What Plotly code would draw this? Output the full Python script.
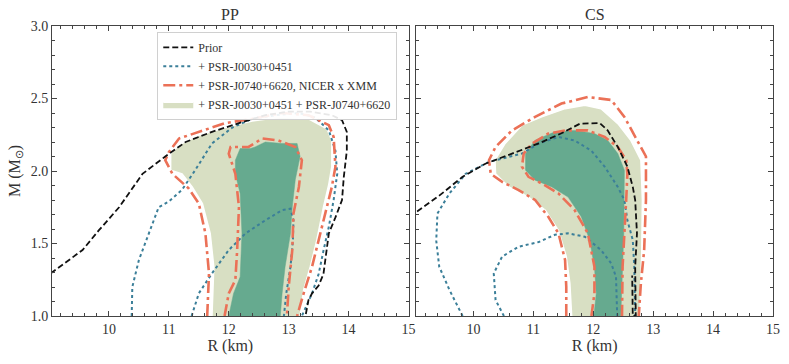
import plotly.graph_objects as go

# colours
prior_col = "#111111"
j0030_col = "#3b7f99"
j0740_col = "#eb7157"
outer_fill = "#d8dfc3"
inner_fill = "#66aa8f"

# ---- PP panel contours (R in km, M in Msun) ----
pp_prior_R = [9.03, 9.56, 9.83, 10.17, 10.56, 10.94, 11.28, 11.72, 12.17, 12.61, 13.0, 13.36, 13.72, 13.89,
              13.97, 13.97, 13.92, 13.89, 13.78, 13.67, 13.58, 13.5, 13.39, 13.33, 13.28]
pp_prior_M = [1.294, 1.455, 1.59, 1.75, 1.98, 2.10, 2.20, 2.27, 2.33, 2.385, 2.41, 2.41, 2.385, 2.35,
              2.27, 2.14, 1.96, 1.80, 1.68, 1.57, 1.29, 1.21, 1.156, 1.11, 1.0]

pp_j0030_outer_R = [10.38, 10.39, 10.5, 10.67, 10.83, 11.0, 11.22, 11.44, 11.72, 12.06, 12.39, 12.78, 13.17,
                    13.44, 13.67, 13.78, 13.81, 13.75, 13.67, 13.58, 13.5, 13.39, 13.22]
pp_j0030_outer_M = [1.0, 1.20, 1.386, 1.57, 1.75, 1.79, 1.87, 2.006, 2.19, 2.30, 2.36, 2.385, 2.40,
                    2.37, 2.28, 2.14, 1.98, 1.80, 1.615, 1.45, 1.29, 1.156, 1.0]
pp_j0030_inner_R = [11.38, 11.5, 11.72, 12.0, 12.28, 12.61, 12.89, 13.03, 13.08, 13.07, 13.03, 12.96, 12.92]
pp_j0030_inner_M = [1.0, 1.156, 1.294, 1.455, 1.57, 1.66, 1.73, 1.74, 1.66, 1.52, 1.34, 1.156, 1.0]

pp_j0740_outer_R = [11.64, 11.67, 11.61, 11.5, 11.33, 11.06, 10.94, 11.0, 11.17, 11.5, 11.94, 12.39, 12.89,
                    13.33, 13.67, 13.75, 13.78, 13.72, 13.61, 13.5, 13.39, 13.25, 13.14]
pp_j0740_outer_M = [1.0, 1.294, 1.57, 1.776, 1.88, 1.98, 2.075, 2.13, 2.224, 2.27, 2.33, 2.36, 2.40,
                    2.385, 2.316, 2.235, 2.03, 1.89, 1.71, 1.524, 1.34, 1.156, 1.0]
pp_j0740_inner_R = [11.93, 12.0, 12.11, 12.14, 12.17, 12.11, 12.0, 12.03, 12.33, 12.56, 12.83, 13.11, 13.22,
                    13.17, 13.08, 13.06, 13.0, 12.97]
pp_j0740_inner_M = [1.0, 1.156, 1.248, 1.455, 1.753, 1.98, 2.12, 2.166, 2.166, 2.224, 2.21, 2.166, 2.075,
                    1.89, 1.707, 1.455, 1.20, 1.0]

pp_both_outer_R = [11.72, 11.75, 11.69, 11.56, 11.39, 11.22, 11.03, 11.03, 11.17, 11.5, 11.94, 12.39, 12.89,
                   13.33, 13.64, 13.72, 13.72, 13.67, 13.58, 13.47, 13.36, 13.25, 13.19]
pp_both_outer_M = [1.0, 1.34, 1.57, 1.776, 1.89, 1.98, 2.006, 2.12, 2.18, 2.247, 2.30, 2.345, 2.373,
                   2.36, 2.29, 2.21, 2.03, 1.91, 1.75, 1.524, 1.34, 1.18, 1.0]
pp_both_inner_R = [12.0, 12.08, 12.19, 12.22, 12.19, 12.11, 12.11, 12.19, 12.36, 12.44, 12.61, 12.89, 13.14,
                   13.19, 13.11, 13.06, 13.03, 12.94, 12.89, 12.86]
pp_both_inner_M = [1.0, 1.156, 1.27, 1.57, 1.845, 1.98, 2.075, 2.155, 2.155, 2.166, 2.2, 2.19, 2.19,
                   2.10, 1.94, 1.753, 1.57, 1.34, 1.156, 1.0]

# ---- CS panel contours ----
cs_prior_R = [9.06, 9.43, 9.82, 10.2, 10.645, 11.09, 11.47, 11.78, 12.11, 12.24, 12.41, 12.57, 12.66, 12.7,
              12.73, 12.7, 12.71, 12.66, 12.65]
cs_prior_M = [1.72, 1.83, 1.96, 2.05, 2.12, 2.19, 2.26, 2.327, 2.33, 2.28, 2.166, 2.03, 1.89, 1.80,
              1.57, 1.34, 1.0, 1.0, 1.28]

cs_j0030_outer_R = [9.82, 9.6, 9.43, 9.38, 9.40, 9.6, 9.87, 10.26, 10.81, 11.09, 11.42, 11.69, 11.97, 12.19,
                    12.41, 12.52, 12.57, 12.66, 12.685, 12.7]
cs_j0030_outer_M = [1.0, 1.18, 1.34, 1.52, 1.707, 1.845, 1.98, 2.063, 2.12, 2.19, 2.235, 2.21, 2.14, 2.03,
                    1.89, 1.80, 1.66, 1.524, 1.34, 1.0]
cs_j0030_inner_R = [10.51, 10.37, 10.34, 10.48, 10.755, 11.09, 11.36, 11.58, 11.86, 12.13, 12.30, 12.38, 12.40]
cs_j0030_inner_M = [1.0, 1.11, 1.294, 1.41, 1.478, 1.51, 1.56, 1.57, 1.547, 1.455, 1.363, 1.27, 1.0]

cs_j0740_outer_R = [11.55, 11.55, 11.53, 11.42, 11.25, 11.03, 10.755, 10.48, 10.29, 10.26, 10.37, 10.645,
                    11.03, 11.47, 11.91, 12.30, 12.52, 12.74, 12.88, 12.88, 12.85, 12.795, 12.76]
cs_j0740_outer_M = [1.0, 1.20, 1.386, 1.57, 1.684, 1.80, 1.868, 1.925, 1.98, 2.075, 2.166, 2.28,
                    2.373, 2.465, 2.51, 2.49, 2.373, 2.21, 2.10, 1.80, 1.455, 1.225, 1.0]
cs_j0740_inner_R = [11.97, 12.02, 12.02, 11.91, 11.69, 11.42, 11.14, 10.92, 10.81, 10.84, 10.98, 11.25, 11.53,
                    11.91, 12.19, 12.41, 12.55, 12.57, 12.55, 12.52, 12.49, 12.48]
cs_j0740_inner_M = [1.0, 1.156, 1.34, 1.57, 1.73, 1.845, 1.914, 1.96, 2.03, 2.12, 2.19, 2.258, 2.28,
                    2.28, 2.235, 2.166, 2.075, 1.98, 1.80, 1.57, 1.34, 1.0]

cs_both_outer_R = [11.64, 11.61, 11.55, 11.42, 11.2, 10.92, 10.59, 10.37, 10.36, 10.53, 10.81, 11.14, 11.53,
                   11.86, 12.13, 12.41, 12.63, 12.795, 12.82, 12.81, 12.78]
cs_both_outer_M = [1.0, 1.225, 1.41, 1.59, 1.73, 1.82, 1.89, 1.98, 2.075, 2.19, 2.316, 2.373, 2.43,
                   2.453, 2.43, 2.327, 2.21, 2.075, 1.80, 1.455, 1.0]
cs_both_inner_R = [12.01, 12.05, 12.02, 11.94, 11.80, 11.58, 11.31, 11.03, 10.87, 10.87, 11.03, 11.36, 11.69,
                   12.02, 12.24, 12.41, 12.52, 12.52, 12.51, 12.48, 12.46]
cs_both_inner_M = [1.0, 1.156, 1.34, 1.524, 1.684, 1.82, 1.89, 1.937, 2.006, 2.12, 2.212, 2.27, 2.28,
                   2.258, 2.212, 2.12, 2.006, 1.80, 1.57, 1.225, 1.0]

labels = ["Prior", "+ PSR-J0030+0451", "+ PSR-J0740+6620, NICER x XMM",
          "+ PSR-J0030+0451 + PSR-J0740+6620"]

panels = [
    dict(xa="x", ya="y", title="PP",
         prior=(pp_prior_R, pp_prior_M),
         j0030=[(pp_j0030_outer_R, pp_j0030_outer_M), (pp_j0030_inner_R, pp_j0030_inner_M)],
         j0740=[(pp_j0740_outer_R, pp_j0740_outer_M), (pp_j0740_inner_R, pp_j0740_inner_M)],
         both=[(pp_both_outer_R, pp_both_outer_M), (pp_both_inner_R, pp_both_inner_M)]),
    dict(xa="x2", ya="y2", title="CS",
         prior=(cs_prior_R, cs_prior_M),
         j0030=[(cs_j0030_outer_R, cs_j0030_outer_M), (cs_j0030_inner_R, cs_j0030_inner_M)],
         j0740=[(cs_j0740_outer_R, cs_j0740_outer_M), (cs_j0740_inner_R, cs_j0740_inner_M)],
         both=[(cs_both_outer_R, cs_both_outer_M), (cs_both_inner_R, cs_both_inner_M)]),
]

fig = go.Figure()

for i, p in enumerate(panels):
    first = i == 0
    # filled joint contours
    (ro, mo), (ri, mi) = p["both"]
    fig.add_trace(go.Scatter(x=ro, y=mo, xaxis=p["xa"], yaxis=p["ya"], mode="lines",
                             fill="toself", fillcolor=outer_fill, line=dict(color="white", width=1.5),
                             name=labels[3], showlegend=first, legendrank=4, hoverinfo="skip"))
    fig.add_trace(go.Scatter(x=ri, y=mi, xaxis=p["xa"], yaxis=p["ya"], mode="lines",
                             fill="toself", fillcolor=inner_fill, line=dict(color=inner_fill, width=0.5),
                             showlegend=False, hoverinfo="skip"))
    # PSR-J0030 dotted
    for k, (r, m) in enumerate(p["j0030"]):
        fig.add_trace(go.Scatter(x=r, y=m, xaxis=p["xa"], yaxis=p["ya"], mode="lines",
                                 line=dict(color=j0030_col, width=2, dash="dot"),
                                 name=labels[1], showlegend=first and k == 0, legendrank=2))
    # PSR-J0740 dash-dot
    for k, (r, m) in enumerate(p["j0740"]):
        fig.add_trace(go.Scatter(x=r, y=m, xaxis=p["xa"], yaxis=p["ya"], mode="lines",
                                 line=dict(color=j0740_col, width=2.6, dash="12px,4px,3px,4px"),
                                 name=labels[2], showlegend=first and k == 0, legendrank=3))
    # prior dashed
    r, m = p["prior"]
    fig.add_trace(go.Scatter(x=r, y=m, xaxis=p["xa"], yaxis=p["ya"], mode="lines",
                             line=dict(color=prior_col, width=1.8, dash="6px,3px"),
                             name=labels[0], showlegend=first, legendrank=1))

axis_common = dict(
    showline=True, linecolor="#444", linewidth=1, mirror="allticks",
    ticks="inside", ticklen=5, tickcolor="#444", showgrid=False, zeroline=False,
    tickfont=dict(family="Liberation Serif", size=14, color="#333"),
)

fig.update_layout(
    width=789, height=364,
    margin=dict(l=52, r=9, t=26, b=48),
    paper_bgcolor="white", plot_bgcolor="white",
    font=dict(family="Liberation Serif", color="#333"),
    xaxis=dict(domain=[0, 0.4945], range=[9.05, 15], dtick=1, tick0=10,
               minor=dict(ticks="inside", dtick=0.2, ticklen=3, tickcolor="#444"),
               title=dict(text="R (km)", font=dict(size=16), standoff=2), **axis_common),
    xaxis2=dict(domain=[0.5055, 1], range=[9.05, 15], dtick=1, tick0=10,
                minor=dict(ticks="inside", dtick=0.2, ticklen=3, tickcolor="#444"),
                title=dict(text="R (km)", font=dict(size=16), standoff=2), anchor="y2", **axis_common),
    yaxis=dict(range=[1.0, 3.0], dtick=0.5, tickformat=".1f",
               minor=dict(ticks="inside", dtick=0.1, ticklen=3, tickcolor="#444"),
               title=dict(text="M (M<sub>⊙</sub>)", font=dict(size=16), standoff=6), **axis_common),
    yaxis2=dict(range=[1.0, 3.0], dtick=0.5, anchor="x2", showticklabels=False,
                minor=dict(ticks="inside", dtick=0.1, ticklen=3, tickcolor="#444"), **axis_common),
    legend=dict(x=0.146, y=0.98, xanchor="left", yanchor="top",
                bgcolor="rgba(255,255,255,0.9)", bordercolor="#d0d0d0", borderwidth=1,
                font=dict(family="Liberation Serif", size=12, color="#333"),
                tracegroupgap=0, itemwidth=30),
    showlegend=True,
    annotations=[
        dict(text="PP", x=0.2472, y=1.0, xref="paper", yref="paper", xanchor="center",
             yanchor="bottom", yshift=1, showarrow=False, font=dict(size=16, color="#333")),
        dict(text="CS", x=0.7527, y=1.0, xref="paper", yref="paper", xanchor="center",
             yanchor="bottom", yshift=1, showarrow=False, font=dict(size=16, color="#333")),
    ],
)

# drop the default page margin so the figure sits at the window's corner
fig.write_html("out.html", config={"displayModeBar": False},
               post_script="document.body.style.margin='0';")
